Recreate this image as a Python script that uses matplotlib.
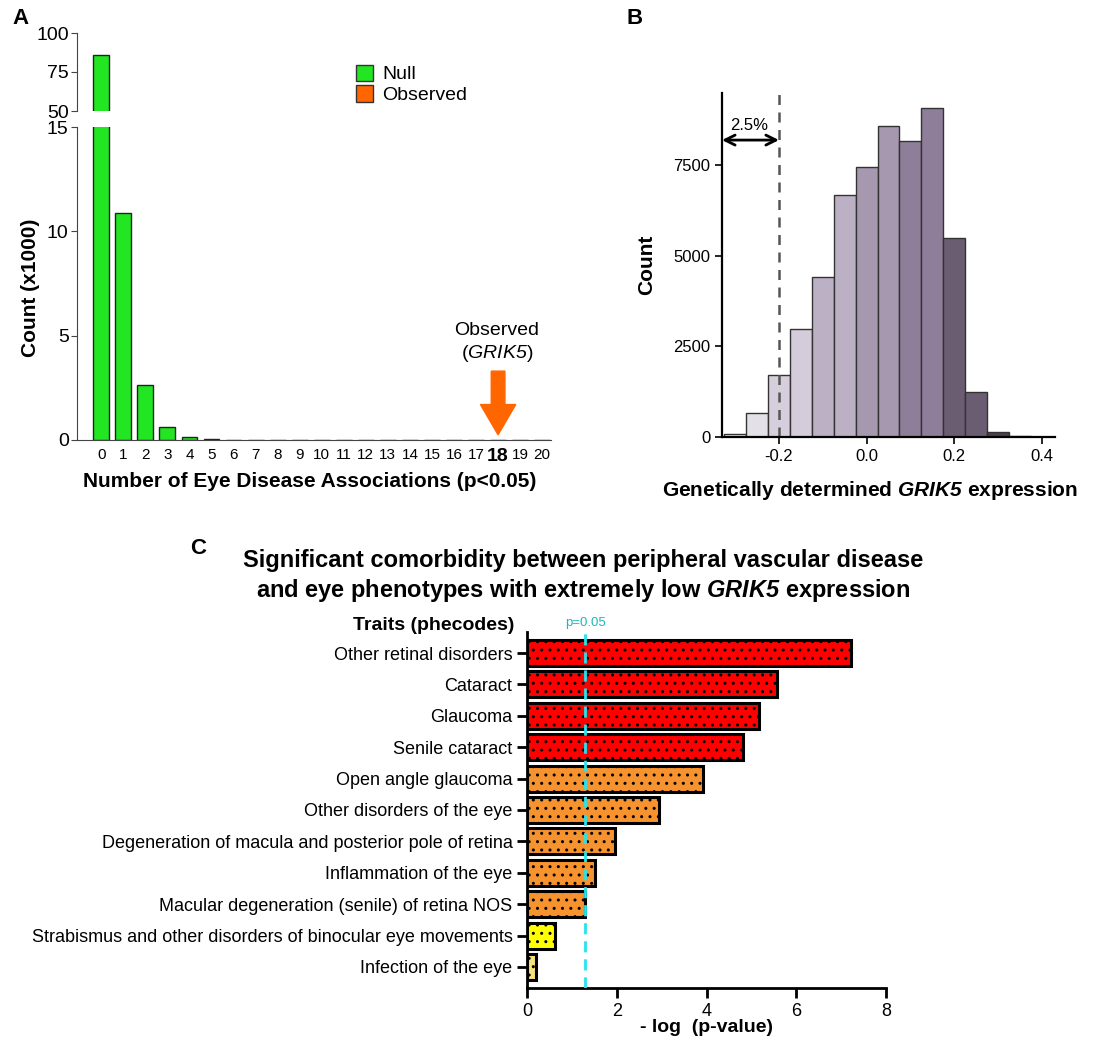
import numpy as np
import matplotlib
matplotlib.use('Agg')
import matplotlib.pyplot as plt
from matplotlib.patches import Patch

plt.rcParams['font.family'] = ['Liberation Sans', 'DejaVu Sans']
plt.rcParams['mathtext.fontset'] = 'custom'
plt.rcParams['mathtext.rm'] = 'Liberation Sans'
plt.rcParams['mathtext.it'] = 'Liberation Sans:italic'
plt.rcParams['mathtext.sf'] = 'Liberation Sans:italic'  # italic incl. digits
plt.rcParams['mathtext.bf'] = 'Liberation Sans:bold'
plt.rcParams['mathtext.bfit'] = 'Liberation Sans:bold:italic'
plt.rcParams['hatch.linewidth'] = 1.0

# Panel A: null distribution of eye disease associations (counts x1000)
n_assoc = list(range(21))
null_counts = [86.0, 10.9, 2.63, 0.63, 0.15, 0.04, 0.02, 0.01, 0.01, 0.01, 0.01,
               0.01, 0.01, 0.01, 0.01, 0.01, 0.01, 0.01, 0.01, 0.01, 0.01]
observed = 18

# Panel B: histogram of genetically determined GRIK5 expression
bin_centers = [-0.30, -0.25, -0.20, -0.15, -0.10, -0.05, 0.00, 0.05,
               0.10, 0.15, 0.20, 0.25, 0.30, 0.35]
bin_counts = [80, 650, 1720, 2970, 4430, 6690, 7445, 8580,
              8175, 9080, 5500, 1230, 130, 20]
bin_colors = ['#f0eef2', '#e4e0e8', '#d6cedc', '#d4ccda', '#bcb0c5', '#bcb0c5',
              '#a698af', '#a698af', '#8f7e99', '#8f7e99', '#6a5d72', '#6a5d72',
              '#4a3f51', '#3a3141']
cutoff = -0.2

# Panel C: comorbidity traits
traits = ['Other retinal disorders', 'Cataract', 'Glaucoma', 'Senile cataract',
          'Open angle glaucoma', 'Other disorders of the eye',
          'Degeneration of macula and posterior pole of retina',
          'Inflammation of the eye', 'Macular degeneration (senile) of retina NOS',
          'Strabismus and other disorders of binocular eye movements',
          'Infection of the eye']
neglogp = [7.21, 5.58, 5.18, 4.82, 3.93, 2.95, 1.97, 1.52, 1.30, 0.63, 0.19]
trait_colors = ['#ff0000'] * 4 + ['#f7932f'] * 5 + ['#ffff00', '#f7e27a']

W, H = 1103, 1045
fig = plt.figure(figsize=(W / 100, H / 100), dpi=100)

def fx(px):
    return px / W

def fy(py):
    return 1 - py / H

# ---------------- Panel A ----------------
green = '#22e622'
orange = '#ff6600'
axA = fig.add_axes([fx(77), fy(440), fx(551 - 77), (440 - 127) / H])
axT = fig.add_axes([fx(77), fy(111), fx(551 - 77), (111 - 33) / H])
for ax in (axA, axT):
    ax.bar(n_assoc, null_counts, width=0.72, color=green, edgecolor='#222222', linewidth=1)
    ax.set_xlim(-1.1, 20.4)
    ax.spines['top'].set_visible(False)
    ax.spines['right'].set_visible(False)
    ax.spines['left'].set_color('#444444')
    ax.spines['bottom'].set_color('#444444')
    ax.tick_params(axis='y', labelsize=14, length=4, pad=2, color='#444444')
axA.set_ylim(0, 15)
axA.set_yticks([0, 5, 10, 15])
axT.set_ylim(50, 100)
axT.set_yticks([50, 75, 100])
axT.spines['bottom'].set_visible(False)
axT.set_xticks([])

axA.set_xticks(n_assoc)
axA.set_xticklabels([str(v) for v in n_assoc])
axA.tick_params(axis='x', length=0, labelsize=11, pad=6)
lab = axA.get_xticklabels()[observed]
lab.set_fontweight('bold')
lab.set_fontsize(14)

axA.arrow(observed, 3.3, 0, -3.05, width=0.62, head_width=1.6, head_length=1.45,
          length_includes_head=True, color=orange, zorder=5)
axA.text(observed - 0.05, 3.65, 'Observed\n($\\mathsf{GRIK5}$)', ha='center', va='bottom',
         fontsize=14, linespacing=1.25)

axT.legend(handles=[Patch(facecolor=green, edgecolor='#333333', label='Null'),
                    Patch(facecolor=orange, edgecolor='#333333', label='Observed')],
           loc='upper left', bbox_to_anchor=(fx(346), fy(55)), bbox_transform=fig.transFigure,
           frameon=False, fontsize=14, handlelength=0.9, handleheight=0.9,
           handletextpad=0.45, borderpad=0, labelspacing=0.1)

fig.text(fx(30), fy(288), 'Count (x1000)', rotation=90, ha='center', va='center',
         fontsize=15, fontweight='bold')
fig.text(fx(310), fy(482), 'Number of Eye Disease Associations (p<0.05)', ha='center',
         va='center', fontsize=15, fontweight='bold')

# ---------------- Panel B ----------------
axB = fig.add_axes([fx(722), fy(437), fx(1055 - 722), (437 - 93) / H])
axB.bar(bin_centers, bin_counts, width=0.05, color=bin_colors, edgecolor='#333333',
        linewidth=1)
axB.set_xlim(-0.33, 0.43)
axB.set_ylim(0, 9500)
axB.set_yticks([0, 2500, 5000, 7500])
axB.set_xticks([-0.2, 0.0, 0.2, 0.4])
axB.set_xticklabels(['-0.2', '0.0', '0.2', '0.4'])
axB.spines['top'].set_visible(False)
axB.spines['right'].set_visible(False)
axB.spines['left'].set_linewidth(1.6)
axB.spines['bottom'].set_linewidth(1.6)
axB.tick_params(labelsize=12, length=5, width=1.2)
axB.axvline(cutoff, color='#555555', ls=(0, (4, 3)), lw=1.8)
axB.annotate('', xy=(-0.33, 8200), xytext=(cutoff, 8200),
             arrowprops=dict(arrowstyle='<->', lw=2, color='black', shrinkA=0, shrinkB=0,
                             mutation_scale=18))
axB.text(-0.267, 8400, '2.5%', ha='center', va='bottom', fontsize=12)
axB.set_ylabel('Count', fontsize=15, fontweight='bold', labelpad=12)
fig.text(fx(870), fy(490), 'Genetically determined $\\mathbfit{GRIK5}$ expression',
         ha='center', va='center', fontsize=15, fontweight='bold')

# ---------------- Panel C ----------------
axC = fig.add_axes([fx(527), fy(988), fx(886 - 527), (988 - 632) / H])
ypos = np.arange(len(traits))
axC.barh(ypos, neglogp, height=0.83, color=trait_colors, edgecolor='black', linewidth=2.2,
         hatch='..')
axC.set_ylim(len(traits) - 0.33, -0.67)
axC.set_xlim(0, 8)
axC.set_xticks([0, 2, 4, 6, 8])
axC.set_yticks(ypos)
axC.set_yticklabels(traits)
axC.spines['top'].set_visible(False)
axC.spines['right'].set_visible(False)
axC.spines['left'].set_linewidth(2)
axC.spines['bottom'].set_linewidth(2)
axC.tick_params(labelsize=13, length=7, width=2)
sig = -np.log10(0.05)
axC.axvline(sig, color='#22e5ee', ls=(0, (4, 2.5)), lw=2, zorder=5)
axC.text(sig, 1.008, 'p=0.05', transform=axC.get_xaxis_transform(), ha='center',
         va='bottom', fontsize=9.5, color='#1fb8b8')
fig.text(fx(514), fy(626), 'Traits (phecodes)', ha='right', va='center', fontsize=14,
         fontweight='bold')
fig.text(fx(583), fy(577), 'Significant comorbidity between peripheral vascular disease\n'
         'and eye phenotypes with extremely low $\\mathbfit{GRIK5}$ expression',
         ha='center', va='center', fontsize=17, fontweight='bold', linespacing=1.25)
fig.text(fx(706), fy(1027), '- log  (p-value)', ha='center', va='center', fontsize=14,
         fontweight='bold')

# panel letters
fig.text(fx(12), fy(18), 'A', fontsize=16, fontweight='bold', va='center')
fig.text(fx(627), fy(18), 'B', fontsize=16, fontweight='bold', va='center')
fig.text(fx(190), fy(548), 'C', fontsize=16, fontweight='bold', va='center')

fig.savefig('out.png', dpi=100)
